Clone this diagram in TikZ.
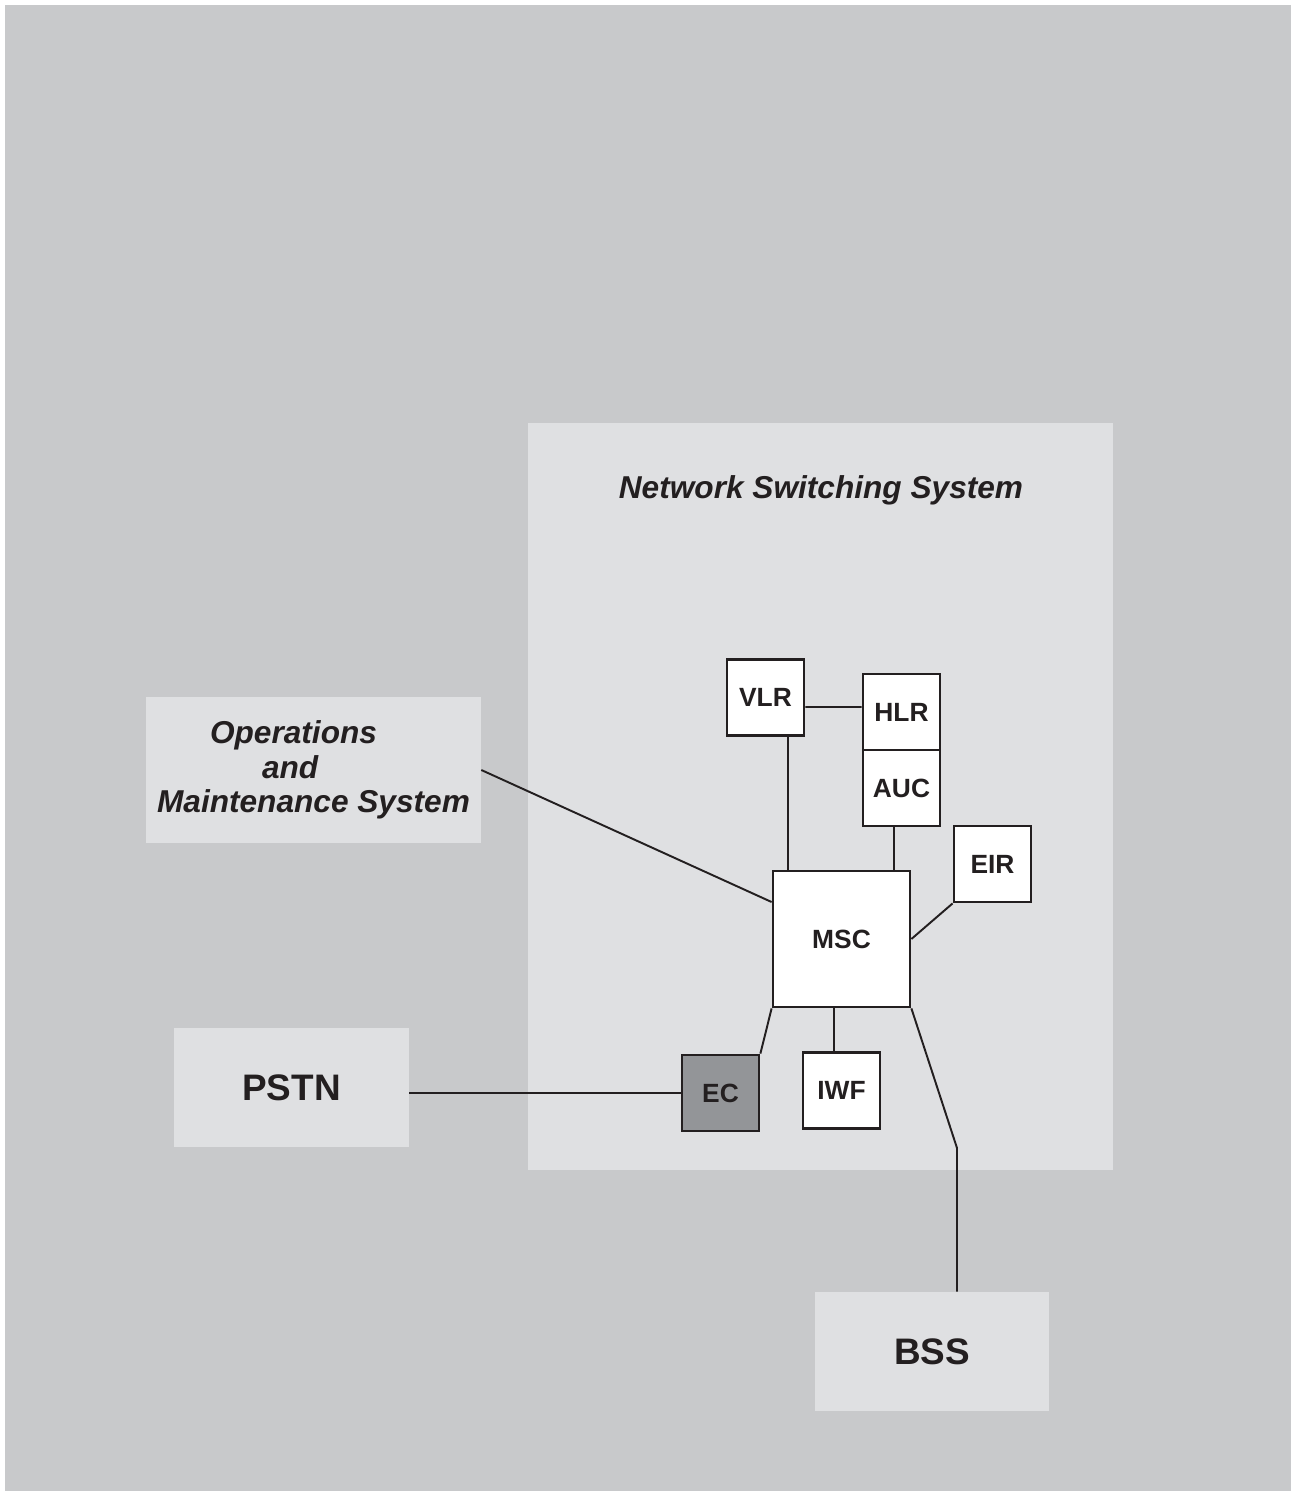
\documentclass[tikz,border=0pt]{standalone}
\usepackage{fontspec}
\setmainfont{Liberation Sans}
\definecolor{bggray}{HTML}{C8C9CB}
\definecolor{panelgray}{HTML}{DFE0E2}
\definecolor{ecgray}{HTML}{939598}
\definecolor{ink}{HTML}{231F20}

\begin{document}
\begin{tikzpicture}[x=0.02cm, y=-0.02cm,
    unit/.style={draw=ink, line width=1.6pt, fill=white, minimum width=1.54cm, minimum height=1.52cm, inner sep=0pt, font=\bfseries\fontsize{15}{18}\selectfont, text=ink},
    panel/.style={fill=panelgray, inner sep=0pt, text=ink},
    link/.style={draw=ink, line width=1.1pt}]

    % Background
    \fill[white] (0,0) rectangle (1291,1491);
    \fill[bggray] (5,5) rectangle (1291,1491);
    \useasboundingbox (0,0) rectangle (1291,1491);

    % Panels
    \node[panel, minimum width=11.7cm, minimum height=14.94cm] (nss) at (820.5, 796.5) {};
    \node[text=ink, font=\bfseries\itshape\fontsize{18}{20}\selectfont] (nsstitle) at (821, 490) {Network Switching System};
    \node[panel, minimum width=6.7cm, minimum height=2.92cm, align=left, font=\bfseries\itshape\fontsize{18}{19.5}\selectfont] (oms) at (313.5, 770)
        {\hspace*{1.06cm}Operations\\\hspace*{2.1cm}and\\Maintenance System};
    \node[panel, minimum width=4.7cm, minimum height=2.38cm, font=\bfseries\fontsize{21}{24}\selectfont] (pstn) at (291.5, 1087.5) {PSTN};
    \node[panel, minimum width=4.68cm, minimum height=2.38cm, font=\bfseries\fontsize{21}{24}\selectfont] (bss) at (932, 1351.5) {BSS};

    % Units
    \node[unit] (vlr) at (765.5, 697.5) {VLR};
    \node[unit] (hlr) at (901.5, 712) {HLR};
    \node[unit] (auc) at (901.5, 788) {AUC};
    \node[unit] (eir) at (992.5, 864) {EIR};
    \node[unit, minimum width=2.74cm, minimum height=2.72cm] (msc) at (841.5, 939) {MSC};
    \node[unit, fill=ecgray] (ec) at (720.5, 1093) {EC};
    \node[unit] (iwf) at (841.5, 1090.5) {IWF};
    \coordinate (bend) at (957, 1148);

    % Links
    \draw[link] ([yshift=-0.19cm]vlr.east) -- ([yshift=0.1cm]hlr.west);
    \draw[link] ([xshift=0.45cm]vlr.south) -- ([xshift=0.45cm]vlr.south |- msc.north);
    \draw[link] ([xshift=-0.15cm]auc.south) -- ([xshift=-0.15cm]auc.south |- msc.north);
    \draw[link] (eir.south west) -- (msc.east);
    \draw[link] (oms.east) -- ([yshift=0.74cm]msc.west);
    \draw[link] (msc.south west) -- (ec.north east);
    \draw[link] ([xshift=-0.15cm]msc.south) -- ([xshift=-0.15cm]msc.south |- iwf.north);
    \draw[link] (msc.south east) -- (bend) -- (bend |- bss.north);
    \draw[link] (pstn.east |- ec.west) -- (ec.west);

\end{tikzpicture}
\end{document}
